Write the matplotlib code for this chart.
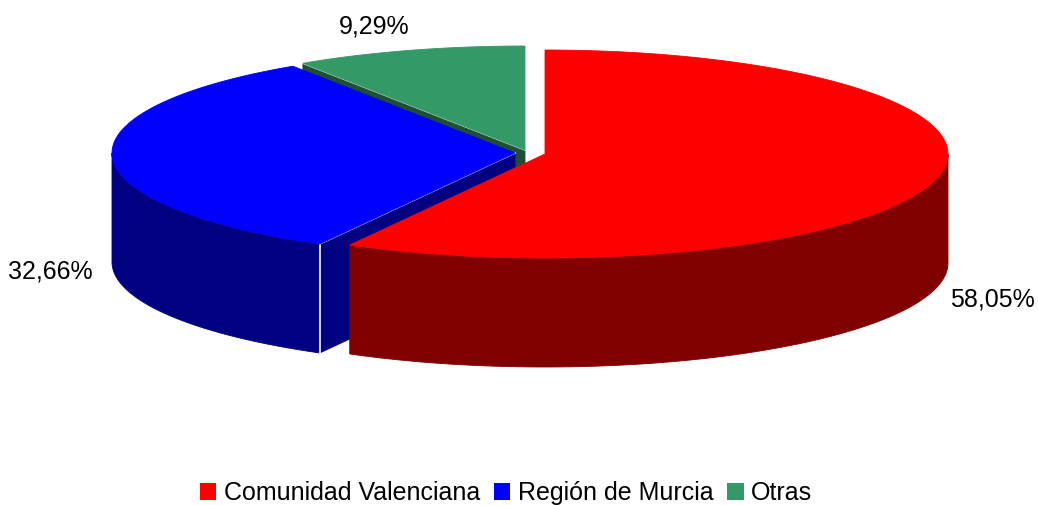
"""3D-style pie chart: share by region (Comunidad Valenciana, Murcia, Otras)."""

import matplotlib

matplotlib.use("Agg")
import matplotlib.pyplot as plt
import numpy as np
from matplotlib.patches import Patch, Polygon

plt.rcParams["font.family"] = ["Liberation Sans", "DejaVu Sans"]

regions = ["Comunidad Valenciana", "Región de Murcia", "Otras"]
shares = [58.05, 32.66, 9.29]
labels = ["58,05%", "32,66%", "9,29%"]

top_colors = ["#FF0000", "#0000FF", "#339966"]
side_colors = ["#800000", "#000080", "#1F4E36"]

# canvas geometry in pixels (y grows downwards)
W, H = 1038, 505
CX, CY = 525, 150
RX, RY = 403, 104
DEPTH = 109
explode = [(20, 4), (-10, 3), (0, 0)]
label_radius = [1.146, 1.155, 1.3]
label_drop = [116, 114, 6]


def point(theta, offset, z=0.0):
    """Point on the rim; theta in degrees, clockwise from 12 o'clock."""
    t = np.radians(theta)
    return (CX + offset[0] + RX * np.sin(t), CY + offset[1] - RY * np.cos(t) + z)


def arc(a0, a1, offset, z=0.0, n=120):
    t = np.linspace(a0, a1, n)
    xs, ys = point(t, offset, z)
    return np.column_stack([xs, ys])


def add_poly(ax, pts, color, zorder):
    ax.add_patch(Polygon(pts, closed=True, facecolor=color, edgecolor=color,
                         linewidth=0.6, zorder=zorder))


def cut_face(ax, theta, offset, color, zorder):
    apex = (CX + offset[0], CY + offset[1])
    rim = point(theta, offset)
    pts = [apex, rim, (rim[0], rim[1] + DEPTH), (apex[0], apex[1] + DEPTH)]
    add_poly(ax, pts, color, zorder)
    ax.plot([apex[0], rim[0]], [apex[1], rim[1]], color="white", lw=1.1, zorder=zorder + 0.5)
    return rim


def main() -> None:
    fig = plt.figure(figsize=(W / 100, H / 100), dpi=100)
    ax = fig.add_axes([0, 0, 1, 1])
    ax.set_xlim(0, W)
    ax.set_ylim(H, 0)
    ax.axis("off")

    bounds = np.concatenate([[0], np.cumsum(shares) / np.sum(shares) * 360])
    starts, ends = bounds[:-1], bounds[1:]
    red, blue, green = 0, 1, 2

    # back to front: green cut face, green top, blue cut face/side/top, red side/top
    cut_face(ax, starts[green], explode[green], side_colors[green], 1)
    apex = (CX + explode[green][0], CY + explode[green][1])
    add_poly(ax, np.vstack([apex, arc(starts[green], ends[green], explode[green])]),
             top_colors[green], 2)

    rim = cut_face(ax, starts[blue], explode[blue], side_colors[blue], 3)
    front = arc(starts[blue], 270, explode[blue])
    add_poly(ax, np.vstack([front, front[::-1] + [0, DEPTH]]), side_colors[blue], 4)
    ax.plot([rim[0], rim[0]], [rim[1], rim[1] + DEPTH], color="white", lw=1.2, zorder=4.5)
    apex = (CX + explode[blue][0], CY + explode[blue][1])
    add_poly(ax, np.vstack([apex, arc(starts[blue], ends[blue], explode[blue])]),
             top_colors[blue], 5)

    front = arc(90, ends[red], explode[red])
    add_poly(ax, np.vstack([front, front[::-1] + [0, DEPTH]]), side_colors[red], 6)
    apex = (CX + explode[red][0], CY + explode[red][1])
    add_poly(ax, np.vstack([apex, arc(starts[red], ends[red], explode[red])]),
             top_colors[red], 7)

    for i, text in enumerate(labels):
        mid = np.radians((starts[i] + ends[i]) / 2)
        x = CX + explode[i][0] + RX * label_radius[i] * np.sin(mid)
        y = CY + explode[i][1] - RY * label_radius[i] * np.cos(mid) + label_drop[i]
        ax.text(x, y, text, ha="center", va="center", fontsize=18, color="black", zorder=10)

    handles = [Patch(facecolor=c, edgecolor="none") for c in top_colors]
    fig.legend(handles, regions, loc="center", bbox_to_anchor=(506 / W, 1 - 493 / H),
               ncol=3, frameon=False, fontsize=18, handlelength=0.66, handleheight=0.66,
               handletextpad=0.3, columnspacing=0.55, borderaxespad=0)

    fig.savefig("out.png", dpi=100)
    plt.close(fig)


if __name__ == "__main__":
    main()
